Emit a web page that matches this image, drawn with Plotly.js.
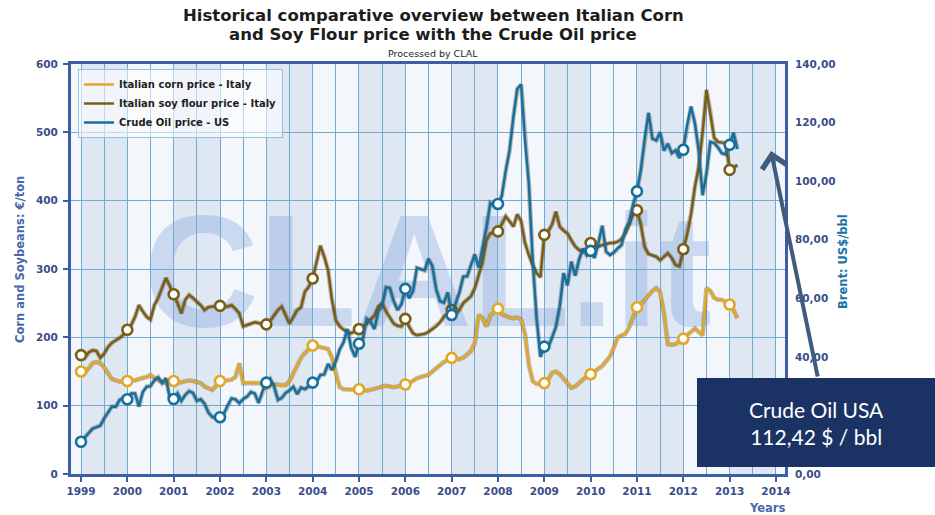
<!DOCTYPE html>
<html>
<head>
<meta charset="utf-8">
<script src="https://cdn.plot.ly/plotly-3.0.1.min.js"></script>
<style>
  html, body { margin: 0; padding: 0; background: #ffffff; }
  #chart { width: 935px; height: 515px; }
</style>
</head>
<body>
<div id="chart"></div>
<script>
// ---------------- DATA (monthly, Jan 1999 -> Mar 2013) ----------------
const startYear = 1999;

const cornPrice = [
  150,148,155,162,164,162,156,146,139,137,135,136,
  136,136,137,139,140,142,145,140,137,135,133,134,
  136,133,134,135,137,136,135,133,128,125,123,129,
  136,136,137,138,142,162,133,133,133,134,133,132,
  132,132,131,131,130,130,136,147,160,170,177,183,
  188,187,186,185,183,170,145,127,124,124,123,124,
  124,123,122,123,124,126,128,129,128,127,128,129,
  131,133,137,140,142,143,145,150,155,160,164,167,
  170,168,168,170,174,180,192,233,228,216,232,238,
  242,234,231,229,228,229,226,205,160,136,132,131,
  133,138,148,150,146,140,133,126,128,133,139,143,
  146,150,155,158,165,172,185,200,203,205,215,230,
  244,248,255,262,268,272,266,235,190,189,190,194,
  198,203,208,213,208,203,272,268,258,255,255,252,
  248,240,228
];

const soyPrice = [
  174,170,178,181,180,170,176,186,192,195,199,204,
  211,218,230,247,238,230,226,247,258,272,287,275,
  263,250,235,255,262,258,252,247,240,244,245,246,
  246,245,245,247,242,235,216,218,220,222,221,219,
  219,224,232,240,245,232,220,230,240,244,267,274,
  286,310,334,318,298,255,225,216,211,208,206,209,
  212,216,220,226,232,245,250,238,228,220,217,216,
  227,215,206,203,204,205,208,212,216,222,230,236,
  240,233,240,250,255,260,272,290,310,342,352,353,
  355,366,377,370,362,380,370,338,320,306,294,288,
  350,355,365,384,362,356,352,342,333,328,325,330,
  338,334,333,335,337,338,338,340,344,352,365,381,
  386,365,332,322,320,318,313,318,323,316,306,304,
  329,350,380,420,450,500,562,530,492,486,485,484,
  445,448,452
];

const oilPrice = [
  11.0,12.5,14.0,15.5,16.0,16.5,19.0,21.0,23.0,23.0,25.3,26.0,
  25.5,27.5,27.5,23.0,28.0,29.8,30.0,32.0,33.0,31.0,32.7,26.0,
  25.6,27.5,25.0,27.0,28.3,27.7,25.0,25.5,24.0,21.0,19.5,19.0,
  19.4,20.5,23.5,25.8,25.5,24.2,25.6,26.4,28.0,27.5,24.3,28.3,
  31.2,32.5,30.0,25.3,26.0,27.7,28.5,29.8,27.3,29.5,29.0,30.0,
  31.2,31.5,33.8,34.0,37.6,35.5,38.5,42.5,45.0,49.5,43.0,40.0,
  44.5,46.0,53.0,52.0,49.5,55.5,57.5,63.8,63.5,59.0,56.0,58.0,
  63.2,60.0,62.5,70.4,70.0,69.5,73.5,71.0,63.0,59.0,58.5,62.0,
  54.3,58.0,62.0,67.4,67.5,71.3,75.0,70.5,77.0,84.0,92.5,91.5,
  92.2,95.0,103.5,110.5,122.0,131.5,133.0,114.0,99.0,72.8,53.2,40.0,
  43.5,43.3,46.5,50.2,57.3,68.6,64.4,72.5,67.7,73.2,77.0,74.7,
  76.2,73.8,78.8,84.8,75.9,74.8,75.6,77.1,78.2,83.5,86.1,92.0,
  96.5,103.7,114.6,123.3,114.5,113.9,116.7,110.4,112.8,109.6,110.5,107.9,
  110.7,119.3,125.5,119.8,110.3,95.2,102.6,113.4,113.0,111.5,109.5,109.2,
  112.4,116.5,111.0
];

const yearTicks = [1999,2000,2001,2002,2003,2004,2005,2006,2007,2008,2009,2010,2011,2012,2013,2014];
const leftTicks = [0,100,200,300,400,500,600];
// 20,00 is hidden behind the info box in the reference
const rightTicks = [0,40,60,80,100,120,140];

const seriesNames = ['Italian corn price - Italy', 'Italian soy flour price - Italy', 'Crude Oil price - US'];
const titleLines = ['Historical comparative overview between Italian Corn', 'and Soy Flour price with the Crude Oil price'];
const lastValueLabel = 'Crude Oil USA<br>112,42 $ / bbl';

// ---------------- BUILD ----------------
const monthX = v => v.map((_, i) => startYear + i / 12);

const series = [
  { name: seriesNames[0], vals: cornPrice, color: '#e2a823', yaxis: 'y'  },
  { name: seriesNames[1], vals: soyPrice,  color: '#7a5e14', yaxis: 'y'  },
  { name: seriesNames[2], vals: oilPrice,  color: '#16709f', yaxis: 'y2' }
];

const traces = [];
series.forEach(s => {
  const xs = monthX(s.vals);
  traces.push({ type: 'scatter', mode: 'lines', x: xs, y: s.vals, yaxis: s.yaxis,
    line: { color: 'rgba(55,45,25,0.30)', width: 4.6 }, showlegend: false, hoverinfo: 'skip' });
  traces.push({ type: 'scatter', mode: 'lines', x: xs, y: s.vals, yaxis: s.yaxis, name: s.name,
    line: { color: s.color, width: 2.5 }, showlegend: true });
  const mx = [], my = [];
  s.vals.forEach((v, i) => { if (i % 12 === 0) { mx.push(xs[i]); my.push(v); } });
  traces.push({ type: 'scatter', mode: 'markers', x: mx, y: my, yaxis: s.yaxis, showlegend: false,
    marker: { symbol: 'circle', size: 10, color: '#ffffff', line: { color: s.color, width: 2.6 } } });
});

// plot area in pixels: left 71, right 785, top 64, bottom 474
const PL = 71, PR = 785, PT = 64, PB = 474;
const px = x => (x - PL) / (PR - PL);
const py = y => (PB - y) / (PB - PT);

const shapes = [];
yearTicks.forEach(y => {
  if ((y - 1999) % 2 === 0 && y < 2014) {
    shapes.push({ type: 'rect', xref: 'x', yref: 'paper', x0: y, x1: y + 1, y0: 0, y1: 1,
      fillcolor: '#dfe7f3', line: { width: 0 }, layer: 'below' });
  }
});
// watermark
shapes.push({ type: 'rect', xref: 'paper', yref: 'paper', x0: px(150), x1: px(705), y0: py(340), y1: py(170),
  fillcolor: 'rgba(0,0,0,0)', line: { width: 0 }, layer: 'below',
  label: { text: 'CLAL.it', textposition: 'middle center',
    font: { family: 'Liberation Sans, Arial', size: 160, weight: 'bold', color: 'rgba(110,150,215,0.30)' } } });
// dark info box
shapes.push({ type: 'rect', xref: 'paper', yref: 'paper', x0: px(697), x1: px(940), y0: py(467), y1: py(378),
  fillcolor: '#1b3265', line: { width: 0 }, layer: 'above' });

const axisBlue = '#3d5da6';
const tickTxt = '#3a4d88';
const gridCol = '#72aad1';
const titleFont = { family: 'DejaVu Sans, Verdana, sans-serif', size: 16.5, weight: 'bold', color: '#1c1c1c' };

const layout = {
  width: 935, height: 515,
  margin: { l: PL, r: 935 - PR, t: PT, b: 515 - PB, pad: 0 },
  paper_bgcolor: '#ffffff',
  plot_bgcolor: '#f3f6fb',
  separators: ',.',
  showlegend: true,
  xaxis: {
    range: [1998.784, 2014.195],
    tickmode: 'array', tickvals: yearTicks, ticktext: yearTicks.map(String),
    tickfont: { family: 'DejaVu Sans, Verdana', size: 10.5, weight: 'bold', color: tickTxt },
    ticks: 'outside', ticklen: 5, tickwidth: 2, tickcolor: axisBlue,
    showgrid: true, gridcolor: gridCol, gridwidth: 1,
    minor: { tickmode: 'linear', tick0: 1999.5, dtick: 1, showgrid: true, gridcolor: gridCol, gridwidth: 1, ticks: '' },
    showline: true, linecolor: axisBlue, linewidth: 3, mirror: true,
    zeroline: false, fixedrange: true
  },
  yaxis: {
    range: [0, 600], tickmode: 'array', tickvals: leftTicks,
    tickfont: { family: 'DejaVu Sans, Verdana', size: 10.5, weight: 'bold', color: tickTxt },
    ticks: 'outside', ticklen: 5, tickwidth: 2, tickcolor: axisBlue,
    showgrid: true, gridcolor: gridCol, gridwidth: 1,
    showline: true, linecolor: axisBlue, linewidth: 3, mirror: true,
    zeroline: false, ticklabelstandoff: 3
  },
  yaxis2: {
    range: [0, 140], overlaying: 'y', side: 'right', tickmode: 'array', tickvals: rightTicks,
    tickformat: '.2f',
    tickfont: { family: 'DejaVu Sans, Verdana', size: 10.5, weight: 'bold', color: tickTxt },
    ticks: '', showgrid: false, showline: false, zeroline: false, ticklabelstandoff: 9
  },
  legend: {
    x: px(78), y: py(69), xanchor: 'left', yanchor: 'top',
    bgcolor: 'rgba(255,255,255,0.55)', bordercolor: '#93bfe0', borderwidth: 1,
    font: { family: 'DejaVu Sans, Verdana', size: 10, weight: 'bold', color: '#1e1e1e' },
    itemwidth: 30, tracegroupgap: 0, traceorder: 'normal'
  },
  shapes: shapes,
  annotations: [
    { text: titleLines[0], xref: 'paper', yref: 'paper', x: px(433), y: py(16), xanchor: 'center', yanchor: 'middle',
      showarrow: false, font: titleFont },
    { text: titleLines[1], xref: 'paper', yref: 'paper', x: px(433), y: py(35), xanchor: 'center', yanchor: 'middle',
      showarrow: false, font: titleFont },
    { text: 'Processed by CLAL', xref: 'paper', yref: 'paper', x: px(433), y: py(54), xanchor: 'center', yanchor: 'middle',
      showarrow: false, font: { family: 'DejaVu Sans, Verdana', size: 9.5, color: '#1e1e1e' } },
    { text: 'Corn and Soybeans: €/ton', xref: 'paper', yref: 'paper', x: px(20), y: py(260), textangle: -90,
      xanchor: 'center', yanchor: 'middle', showarrow: false,
      font: { family: 'DejaVu Sans, Verdana', size: 11.5, weight: 'bold', color: '#4a67ab' } },
    { text: 'Brent: US$/bbl', xref: 'paper', yref: 'paper', x: px(843), y: py(262), textangle: -90,
      xanchor: 'center', yanchor: 'middle', showarrow: false,
      font: { family: 'DejaVu Sans, Verdana', size: 11.5, weight: 'bold', color: '#1a73a6' } },
    { text: 'Years', xref: 'paper', yref: 'paper', x: px(788), y: py(508), xanchor: 'right', yanchor: 'middle',
      showarrow: false, font: { family: 'DejaVu Sans, Verdana', size: 11.5, weight: 'bold', color: '#4a67ab' } },
    { text: lastValueLabel, xref: 'paper', yref: 'paper', x: px(816), y: py(423), xanchor: 'center', yanchor: 'middle',
      showarrow: false, align: 'center', font: { family: 'Lato, Open Sans, sans-serif', size: 21, color: '#ffffff' } },
    { text: '', xref: 'paper', yref: 'paper', x: px(771), y: py(151), ax: 47, ay: 227,
      showarrow: true, arrowhead: 4, arrowsize: 1.2, arrowwidth: 4, arrowcolor: '#3f5c7c', standoff: 0, startstandoff: 0 }
  ]
};

Plotly.newPlot('chart', traces, layout, { staticPlot: true, displayModeBar: false });
</script>
</body>
</html>
